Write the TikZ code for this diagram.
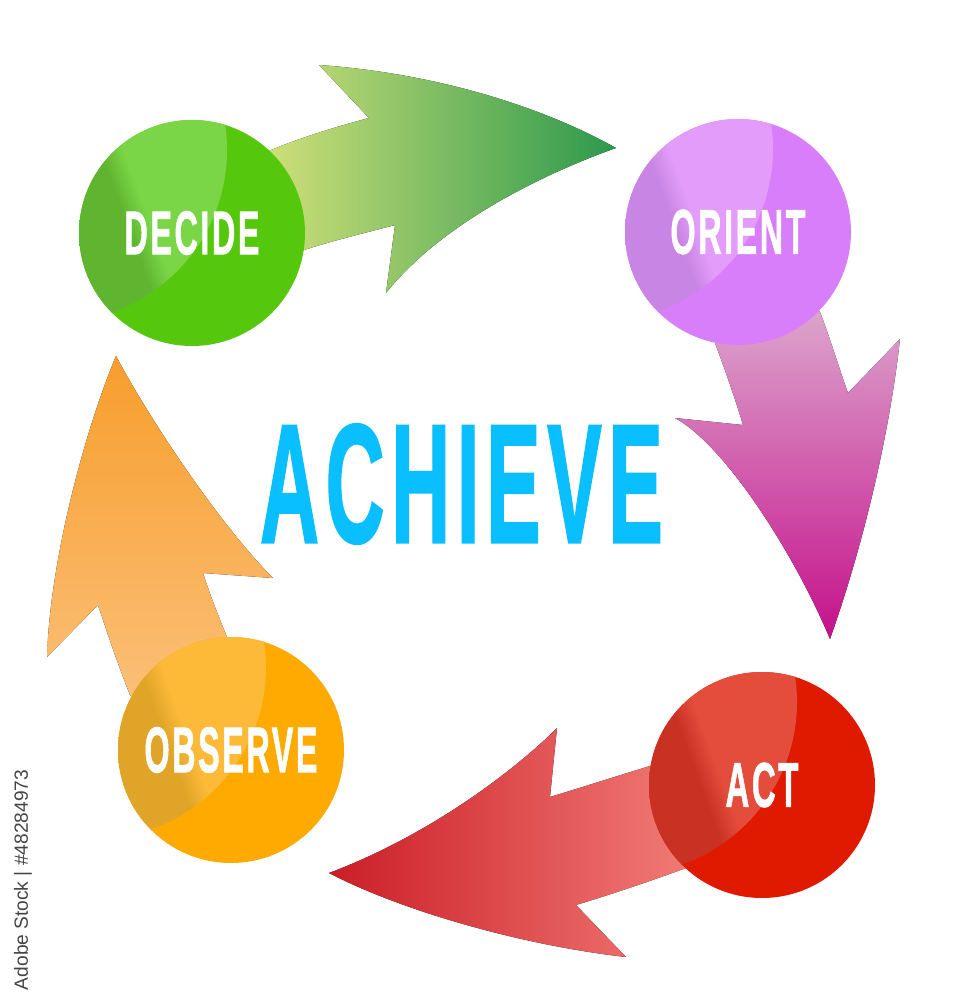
\documentclass[tikz,border=0pt]{standalone}
\usepackage{fontspec}
\usepackage{graphicx}
\setmainfont{Liberation Sans}
\newfontfamily\cond{Liberation Sans}[BoldFeatures={FakeBold=1.5,LetterSpace=8}]
\definecolor{grL}{HTML}{DDE67D}
\definecolor{grM}{HTML}{A6CF69}
\definecolor{grR}{HTML}{2C994C}
\definecolor{pkT}{HTML}{DEB2D3}
\definecolor{pkM}{HTML}{D37CBA}
\definecolor{pkB}{HTML}{C5118A}
\definecolor{orT}{HTML}{F79E2C}
\definecolor{orB}{HTML}{FCC585}
\definecolor{rdL}{HTML}{CB1E27}
\definecolor{rdM}{HTML}{E0494D}
\definecolor{rdR}{HTML}{F4827C}
\definecolor{decM}{HTML}{55C80D}
\definecolor{decA}{HTML}{5FB52F}
\definecolor{decB}{HTML}{7AD646}
\definecolor{oriM}{HTML}{D97EFB}
\definecolor{oriA}{HTML}{C985E3}
\definecolor{oriB}{HTML}{E39CFA}
\definecolor{actM}{HTML}{E01A00}
\definecolor{actA}{HTML}{C93222}
\definecolor{actB}{HTML}{E44C3C}
\definecolor{obsM}{HTML}{FEAA00}
\definecolor{obsA}{HTML}{E0A428}
\definecolor{obsB}{HTML}{FDBA38}
\definecolor{achieveblue}{HTML}{0ABFFF}
\definecolor{wmgray}{HTML}{444444}
\colorlet{hlA}{decA}
\colorlet{hlB}{decB}
\pgfdeclarehorizontalshading[hlA,hlB]{hl}{100bp}{color(0bp)=(hlA); color(37bp)=(hlA); color(42bp)=(hlB); color(100bp)=(hlB)}
\usetikzlibrary{calc}
\tikzset{
  ball/.style={circle, inner sep=0pt, minimum size=226pt, fill=#1,
    text=white, font=\cond\bfseries,
    path picture={
      \begin{scope}
        \clip ($(path picture bounding box.center)+(-137,-83)$) circle (172);
        \shade[shading=hl, shading angle=20] (path picture bounding box.south west) rectangle (path picture bounding box.north east);
      \end{scope}
    }},
}
\begin{document}
\begin{tikzpicture}[x=1pt,y=-1pt]
\useasboundingbox (0,0) rectangle (953,1000);
\fill[white] (0,0) rectangle (953,1000);

% green arrow DECIDE -> ORIENT
\fill[left color=grL, middle color=grM, right color=grR]
  (235,170) -- (271,150) .. controls (300,138) and (335,127) .. (369,118)
  -- (319,65) .. controls (420,72) and (530,100) .. (616,148)
  .. controls (540,175) and (440,225) .. (386,293)
  -- (395,225) .. controls (365,233) and (335,240) .. (304,250)
  -- (250,268) -- cycle;

% pink arrow ORIENT -> ACT
\fill[top color=pkT, middle color=pkM, bottom color=pkB]
  (705,300) -- (715,343) .. controls (725,370) and (735,398) .. (743,425)
  -- (675,418) .. controls (725,445) and (795,555) .. (830,639)
  .. controls (865,540) and (890,430) .. (900,339)
  -- (848,393) .. controls (838,365) and (830,338) .. (820,312)
  -- (790,280) -- cycle;

% red arrow ACT -> OBSERVE
\fill[left color=rdL, middle color=rdM, right color=rdR]
  (700,752) -- (650,766) .. controls (617,776) and (583,787) .. (550,797)
  -- (557,728) .. controls (515,770) and (430,835) .. (329,873)
  .. controls (400,910) and (520,945) .. (626,957)
  -- (576,905) .. controls (612,894) and (648,882) .. (686,868)
  -- (720,857) -- cycle;

% orange arrow OBSERVE -> DECIDE
\fill[top color=orT, bottom color=orB]
  (190,700) -- (227,637) .. controls (218,615) and (210,595) .. (203,573)
  -- (273,578) .. controls (220,525) and (150,420) .. (116,356)
  .. controls (85,430) and (50,560) .. (47,657)
  -- (98,605) .. controls (108,635) and (118,665) .. (130,695)
  -- (180,760) -- cycle;

% circles
\colorlet{hlA}{decA}\colorlet{hlB}{decB}
\node[ball=decM] (decide) at (192,233) {\resizebox{135pt}{43pt}{DECIDE}};
\colorlet{hlA}{oriA}\colorlet{hlB}{oriB}
\node[ball=oriM] (orient) at (738,232) {\resizebox{135pt}{44pt}{ORIENT}};
\colorlet{hlA}{actA}\colorlet{hlB}{actB}
\node[ball=actM] (act) at (762,785) {\resizebox{73pt}{44pt}{ACT}};
\colorlet{hlA}{obsA}\colorlet{hlB}{obsB}
\node[ball=obsM] (observe) at (231,750) {\resizebox{173pt}{45pt}{OBSERVE}};

% title
\node[inner sep=0pt, text=achieveblue, font=\cond\bfseries] (achieve) at (461.5,484) {\resizebox{403pt}{118pt}{ACHIEVE}};

% stock id
\node[inner sep=0pt, rotate=90, text=wmgray] (stockid) at (23,880) {\resizebox{220pt}{!}{Adobe Stock | \#48284973}};
\end{tikzpicture}
\end{document}
